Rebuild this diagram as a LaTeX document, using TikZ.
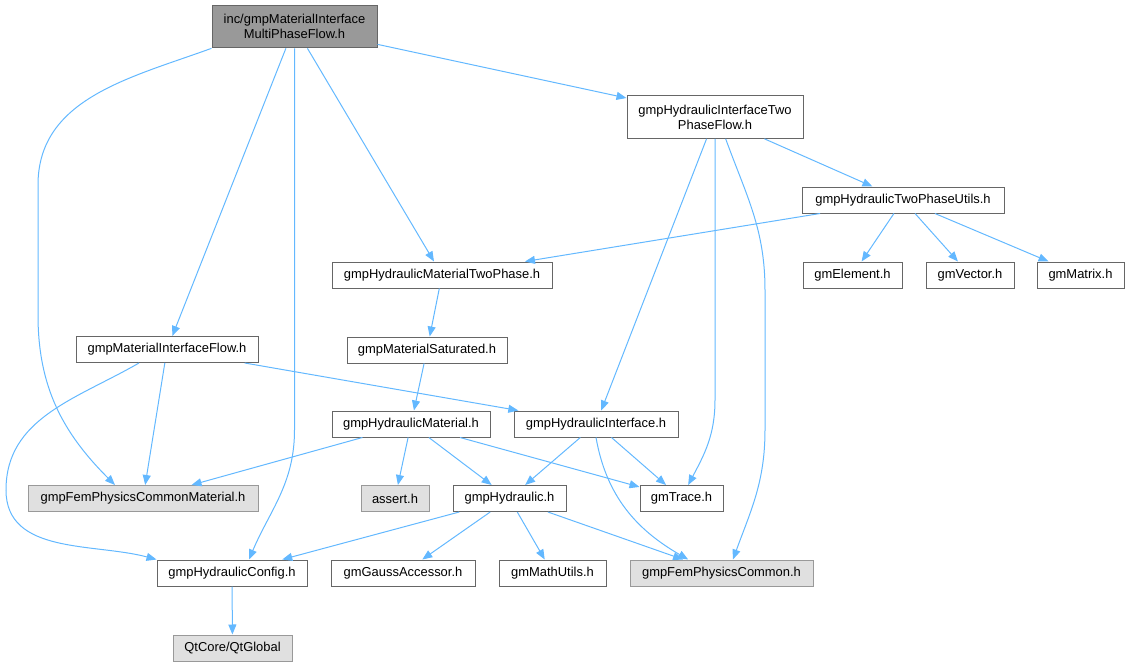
\documentclass[tikz,border=0pt]{standalone}
\usepackage{fontspec}
\setmainfont{Liberation Sans}
\usetikzlibrary{arrows.meta}

\definecolor{edgeblue}{HTML}{63B8FF}
\definecolor{boxline}{HTML}{666666}
\definecolor{sysline}{HTML}{999999}
\definecolor{sysfill}{HTML}{E0E0E0}
\definecolor{rootfill}{HTML}{999999}

\tikzset{
  hdr/.style={draw=boxline, fill=white, line width=0.75pt, inner sep=0pt,
    minimum height=19.5pt, align=center, font=\fontsize{9.7}{11.3}\selectfont},
  sysinc/.style={hdr, draw=sysline, fill=sysfill},
  rootfile/.style={hdr, fill=rootfill, minimum height=32pt},
  boxw/.style={minimum width=#1*0.75pt},
  dep/.style={draw=edgeblue, line width=0.75pt, -{Triangle[length=7.5pt,width=6pt]}},
}

\begin{document}
\begin{tikzpicture}[x=0.75pt, y=-0.75pt]
  \useasboundingbox (0,0) rectangle (1129,667);

  \node[rootfile, boxw=165] (root) at (294.5,26.5) {inc/gmpMaterialInterface\\MultiPhaseFlow.h};
  \node[hdr, boxw=176, minimum height=32pt] (hitpf) at (715,117) {gmpHydraulicInterfaceTwo\\PhaseFlow.h};
  \node[hdr, boxw=202] (utils) at (903,200) {gmpHydraulicTwoPhaseUtils.h};
  \node[hdr, boxw=220] (mattwo) at (442,275) {gmpHydraulicMaterialTwoPhase.h};
  \node[hdr, boxw=99] (element) at (852.5,275) {gmElement.h};
  \node[hdr, boxw=88] (vector) at (970,275) {gmVector.h};
  \node[hdr, boxw=87] (matrix) at (1080.5,275) {gmMatrix.h};
  \node[hdr, boxw=182] (mif) at (167,349.5) {gmpMaterialInterfaceFlow.h};
  \node[hdr, boxw=160] (saturated) at (427,350) {gmpMaterialSaturated.h};
  \node[hdr, boxw=158] (hydmat) at (411,424) {gmpHydraulicMaterial.h};
  \node[hdr, boxw=164] (hydint) at (596,424) {gmpHydraulicInterface.h};
  \node[sysinc, boxw=230] (femcm) at (143,498.5) {gmpFemPhysicsCommonMaterial.h};
  \node[sysinc, boxw=68] (assert) at (395,498.5) {assert.h};
  \node[hdr, boxw=113] (hydraulic) at (509.5,498.5) {gmpHydraulic.h};
  \node[hdr, boxw=83] (trace) at (681.5,498.5) {gmTrace.h};
  \node[hdr, boxw=150] (hydconfig) at (232,573) {gmpHydraulicConfig.h};
  \node[hdr, boxw=144] (gauss) at (403,573) {gmGaussAccessor.h};
  \node[hdr, boxw=107] (mathutils) at (552.5,573) {gmMathUtils.h};
  \node[sysinc, boxw=183] (femcommon) at (721.5,573) {gmpFemPhysicsCommon.h};
  \node[sysinc, boxw=119] (qtglobal) at (232.5,648) {QtCore/QtGlobal};

  % includes of the root file
  \draw[dep] (root.south west) to[out=200, in=90] (38,185) -- (38,315) to[out=-90, in=135] ([xshift=-21pt]femcm.north);
  \draw[dep] (root) -- (mif);
  \draw[dep] (root.south) -- (294.5,430) to[out=-90, in=67] ([xshift=12.75pt]hydconfig.north);
  \draw[dep] (root) -- (mattwo);
  \draw[dep] (root) -- (hitpf);

  % two phase flow interface
  \draw[dep] (hitpf) -- (utils);
  \draw[dep] (hitpf) -- (hydint);
  \draw[dep] (hitpf.south) -- (715,400) to[out=-90, in=62] ([xshift=5pt]trace.north);
  \draw[dep] ([xshift=8pt]hitpf.south) to[out=-70, in=90] (765,290) -- (765,430) to[out=-90, in=70] ([xshift=8.6pt]femcommon.north);
  \draw[dep] (utils) -- (mattwo);
  \draw[dep] (utils) -- (element);
  \draw[dep] (utils) -- (vector);
  \draw[dep] (utils) -- (matrix);

  % material chain
  \draw[dep] (mattwo) -- (saturated);
  \draw[dep] (saturated) -- (hydmat);
  \draw[dep] (mif) -- (femcm);
  \draw[dep] (mif) -- (hydint);
  \draw[dep] ([xshift=-21pt]mif.south) to[out=210, in=90] (6,490) to[out=-90, in=165] (hydconfig.north west);
  \draw[dep] (hydmat) -- (femcm);
  \draw[dep] (hydmat) -- (assert);
  \draw[dep] (hydmat) -- (hydraulic);
  \draw[dep] (hydmat) -- (trace);
  \draw[dep] (hydint) -- (hydraulic);
  \draw[dep] (hydint) -- (trace);
  \draw[dep] (hydint.south) to[out=-80, in=150] ([xshift=-25pt]femcommon.north);

  % hydraulic
  \draw[dep] (hydraulic) -- (hydconfig);
  \draw[dep] (hydraulic) -- (gauss);
  \draw[dep] (hydraulic) -- (mathutils);
  \draw[dep] (hydraulic) -- (femcommon);
  \draw[dep] (hydconfig) -- (qtglobal);
\end{tikzpicture}
\end{document}
